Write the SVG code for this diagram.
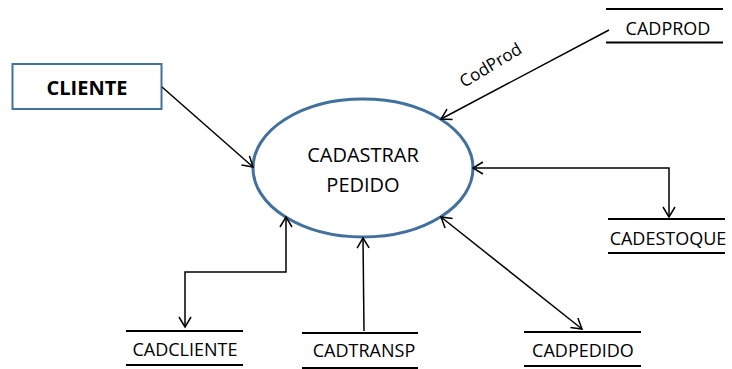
<svg xmlns="http://www.w3.org/2000/svg" width="732" height="369" viewBox="0 0 732 369">
<style>
  .t { font-family: "Open Sans", "Liberation Sans", sans-serif; fill: #000; }
  .store { stroke: #000; stroke-width: 1.8; fill: none; }
  .flow { stroke: #000; stroke-width: 1.5; fill: none; }
</style>
<defs>
  <marker id="arr" markerUnits="userSpaceOnUse" markerWidth="14" markerHeight="14" refX="11" refY="7" orient="auto-start-reverse" viewBox="0 0 14 14">
    <path d="M1,1 L11,7 L1,13" fill="none" stroke="#000" stroke-width="1.5"/>
  </marker>
</defs>
<rect width="732" height="369" fill="#fff"/>

<g id="CLIENTE">
  <rect x="12.5" y="64" width="149" height="45" fill="#fff" stroke="#41719C" stroke-width="2"/>
  <text class="t" x="87" y="95" font-size="20" font-weight="bold" text-anchor="middle">CLIENTE</text>
</g>

<g id="CADASTRAR_PEDIDO">
  <ellipse cx="363" cy="168" rx="110" ry="69" fill="#fff" stroke="#41719C" stroke-width="3"/>
  <text class="t" x="363" y="162" font-size="20" text-anchor="middle">CADASTRAR</text>
  <text class="t" x="363" y="192" font-size="20" text-anchor="middle">PEDIDO</text>
</g>

<g id="CADPROD">
  <line class="store" x1="606" y1="9" x2="723" y2="9"/>
  <line class="store" x1="606" y1="42.5" x2="723" y2="42.5"/>
  <text class="t" x="668" y="35" font-size="18" text-anchor="middle">CADPROD</text>
</g>

<g id="CADESTOQUE">
  <line class="store" x1="608" y1="219" x2="725" y2="219"/>
  <line class="store" x1="608" y1="253" x2="725" y2="253"/>
  <text class="t" x="668" y="245" font-size="18" text-anchor="middle">CADESTOQUE</text>
</g>

<g id="CADPEDIDO">
  <line class="store" x1="524" y1="332" x2="641" y2="332"/>
  <line class="store" x1="524" y1="366" x2="641" y2="366"/>
  <text class="t" x="583" y="357" font-size="18" text-anchor="middle">CADPEDIDO</text>
</g>

<g id="CADCLIENTE">
  <line class="store" x1="126" y1="331" x2="243" y2="331"/>
  <line class="store" x1="126" y1="365" x2="243" y2="365"/>
  <text class="t" x="185" y="356" font-size="18" text-anchor="middle">CADCLIENTE</text>
</g>

<g id="CADTRANSP">
  <line class="store" x1="302" y1="333" x2="418" y2="333"/>
  <line class="store" x1="302" y1="368" x2="418" y2="368"/>
  <text class="t" x="364" y="357" font-size="18" text-anchor="middle">CADTRANSP</text>
</g>

<g id="connectors">
  <line class="flow" x1="162" y1="87" x2="253" y2="167" marker-end="url(#arr)"/>
  <line class="flow" x1="609" y1="30" x2="441" y2="119" marker-end="url(#arr)"/>
  <text class="t" x="464" y="88" font-size="17" transform="rotate(-31 464 88)">CodProd</text>
  <polyline class="flow" points="473,168 669,168 669,217" marker-start="url(#arr)" marker-end="url(#arr)"/>
  <line class="flow" x1="441" y1="217" x2="582" y2="329" marker-start="url(#arr)" marker-end="url(#arr)"/>
  <polyline class="flow" points="286,217 286,272 185,272 185,327" marker-start="url(#arr)" marker-end="url(#arr)"/>
  <line class="flow" x1="364" y1="331" x2="363" y2="238" marker-end="url(#arr)"/>
</g>
</svg>
